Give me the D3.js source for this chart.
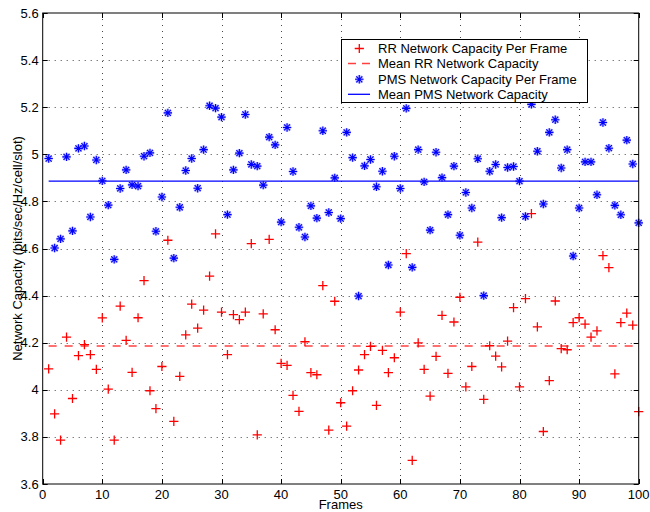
<!DOCTYPE html>
<html>
<head>
<meta charset="utf-8">
<script src="https://cdn.jsdelivr.net/npm/d3@7"></script>
<style>
  html, body { margin: 0; padding: 0; background: #fff; }
  svg { display: block; font-family: "Liberation Sans", Arial, Helvetica, sans-serif; }
</style>
</head>
<body>
<svg id="chart" width="650" height="512"></svg>
<script>
// Per-frame network capacity (bits/sec/Hz/cell/slot), frames 1..100
const frames = d3.range(1, 101);

const rrCapacity = [
  4.089, 3.898, 3.786, 4.224, 3.963, 4.145, 4.192, 4.149, 4.087, 4.305,
  4.003, 3.786, 4.355, 4.210, 4.074, 4.306, 4.464, 3.996, 3.920, 4.099,
  4.635, 3.866, 4.057, 4.233, 4.364, 4.262, 4.338, 4.483, 4.662, 4.330,
  4.149, 4.319, 4.298, 4.330, 4.621, 3.809, 4.322, 4.639, 4.255, 4.112,
  4.104, 3.976, 3.908, 4.204, 4.073, 4.064, 4.442, 3.829, 4.376, 3.945,
  3.846, 3.996, 4.084, 4.149, 4.184, 3.934, 4.167, 4.073, 4.136, 4.330,
  4.578, 3.700, 4.199, 4.087, 3.973, 4.142, 4.316, 4.070, 4.288, 4.393,
  4.012, 4.099, 4.627, 3.959, 4.187, 4.143, 4.097, 4.207, 4.349, 4.012,
  4.387, 4.748, 4.267, 3.823, 4.039, 4.377, 4.175, 4.170, 4.285, 4.306,
  4.279, 4.224, 4.250, 4.570, 4.519, 4.068, 4.285, 4.326, 4.275, 3.907
];

const pmsCapacity = [
  4.982, 4.602, 4.641, 4.989, 4.675, 5.025, 5.035, 4.734, 4.976, 4.887,
  4.784, 4.554, 4.855, 4.934, 4.870, 4.865, 4.992, 5.006, 4.673, 4.819,
  5.176, 4.559, 4.775, 4.931, 4.982, 4.856, 5.020, 5.206, 5.196, 5.158,
  4.744, 4.934, 5.005, 5.169, 4.957, 4.950, 4.869, 5.073, 5.040, 4.712,
  5.114, 4.927, 4.690, 4.649, 4.781, 4.729, 5.100, 4.753, 4.900, 4.727,
  5.093, 4.986, 4.398, 4.951, 4.978, 4.862, 4.928, 4.530, 4.992, 4.855,
  5.195, 4.520, 5.020, 4.883, 4.678, 5.009, 4.901, 4.744, 4.950, 4.656,
  4.838, 4.772, 4.981, 4.400, 4.928, 4.957, 4.731, 4.944, 4.948, 4.886,
  4.736, 5.212, 5.013, 4.789, 5.093, 5.147, 4.942, 5.020, 4.568, 4.772,
  4.968, 4.968, 4.828, 5.135, 5.026, 4.783, 4.743, 5.060, 4.959, 4.709
];

// Mean capacity levels
const rrMean = 4.186;
const pmsMean = 4.886;

const xTicks = [0, 10, 20, 30, 40, 50, 60, 70, 80, 90, 100];
const yTicks = [3.6, 3.8, 4.0, 4.2, 4.4, 4.6, 4.8, 5.0, 5.2, 5.4, 5.6];

const legendLabels = [
  "RR Network Capacity Per Frame",
  "Mean RR Network Capacity",
  "PMS Network Capacity Per Frame",
  "Mean PMS Network Capacity"
];

const RED = "#ff0000";
const BLUE = "#0000ff";

const svg = d3.select("#chart");
const plotLeft = 42.7, plotRight = 638.7, plotTop = 13, plotBottom = 484;

const x = d3.scaleLinear().domain([0, 100]).range([plotLeft, plotRight]);
const y = d3.scaleLinear().domain([3.6, 5.6]).range([plotBottom, plotTop]);

// Dotted grid
const grid = svg.append("g").attr("stroke", "#444").attr("stroke-width", 1)
  .attr("stroke-dasharray", "1,5");
grid.selectAll("line.gx").data(xTicks.slice(1, -1)).join("line")
  .attr("class", "gx")
  .attr("x1", d => Math.round(x(d)) + 0.5).attr("x2", d => Math.round(x(d)) + 0.5)
  .attr("y1", plotTop).attr("y2", plotBottom);
grid.selectAll("line.gy").data(yTicks.slice(1, -1)).join("line")
  .attr("class", "gy")
  .attr("y1", d => Math.round(y(d)) + 0.5).attr("y2", d => Math.round(y(d)) + 0.5)
  .attr("x1", plotLeft).attr("x2", plotRight);

// Mean lines
svg.append("line")
  .attr("x1", x(frames[0])).attr("x2", x(frames[frames.length - 1]))
  .attr("y1", y(rrMean)).attr("y2", y(rrMean))
  .attr("stroke", RED).attr("stroke-width", 1.3).attr("stroke-opacity", 0.75)
  .attr("stroke-dasharray", "8,8");
svg.append("line")
  .attr("x1", x(frames[0])).attr("x2", x(frames[frames.length - 1]))
  .attr("y1", y(pmsMean)).attr("y2", y(pmsMean))
  .attr("stroke", BLUE).attr("stroke-width", 1.3);

// Marker paths
const plusPath = s => `M${-s},0H${s}M0,${-s}V${s}`;
const starPath = s => {
  const d = s * 0.72;
  return `M${-s},0H${s}M0,${-s}V${s}M${-d},${-d}L${d},${d}M${-d},${d}L${d},${-d}`;
};

// RR per-frame markers
svg.append("g").selectAll("path").data(frames).join("path")
  .attr("transform", (f, i) => `translate(${x(f)},${y(rrCapacity[i])})`)
  .attr("d", plusPath(4.6))
  .attr("fill", "none").attr("stroke", RED).attr("stroke-width", 1.3);

// PMS per-frame markers (soft halo under the asterisk)
const pms = svg.append("g");
pms.selectAll("path.halo").data(frames).join("path")
  .attr("class", "halo")
  .attr("transform", (f, i) => `translate(${x(f)},${y(pmsCapacity[i])})`)
  .attr("d", starPath(4.2))
  .attr("fill", "none").attr("stroke", "#6a6aff").attr("stroke-width", 2.6)
  .attr("stroke-opacity", 0.45);
pms.selectAll("path.star").data(frames).join("path")
  .attr("class", "star")
  .attr("transform", (f, i) => `translate(${x(f)},${y(pmsCapacity[i])})`)
  .attr("d", starPath(4.2))
  .attr("fill", "none").attr("stroke", BLUE).attr("stroke-width", 1.1);

// Axes box with inward ticks on all sides
const tickLen = 5;
const axisG = svg.append("g").attr("stroke", "#000").attr("stroke-width", 1);
axisG.append("rect").attr("x", plotLeft).attr("y", plotTop)
  .attr("width", plotRight - plotLeft).attr("height", plotBottom - plotTop).attr("fill", "none");
xTicks.forEach(t => {
  const px = Math.round(x(t)) + 0.5;
  axisG.append("line").attr("x1", px).attr("x2", px).attr("y1", plotBottom).attr("y2", plotBottom - tickLen);
  axisG.append("line").attr("x1", px).attr("x2", px).attr("y1", plotTop).attr("y2", plotTop + tickLen);
});
yTicks.forEach(t => {
  const py = Math.round(y(t)) + 0.5;
  axisG.append("line").attr("y1", py).attr("y2", py).attr("x1", plotLeft).attr("x2", plotLeft + tickLen);
  axisG.append("line").attr("y1", py).attr("y2", py).attr("x1", plotRight).attr("x2", plotRight - tickLen);
});

// Tick labels
svg.append("g").selectAll("text").data(xTicks).join("text")
  .attr("x", d => x(d)).attr("y", plotBottom + 15)
  .attr("text-anchor", "middle").attr("font-size", 13).text(d => d);
svg.append("g").selectAll("text").data(yTicks).join("text")
  .attr("x", plotLeft - 4).attr("y", d => y(d) + 4.5)
  .attr("text-anchor", "end").attr("font-size", 13).text(d => d3.format(".1~f")(d));

// Axis titles
svg.append("text").attr("x", (plotLeft + plotRight) / 2).attr("y", 509)
  .attr("text-anchor", "middle").attr("font-size", 13).text("Frames");
svg.append("text")
  .attr("transform", `translate(22,${(plotTop + plotBottom) / 2}) rotate(-90)`)
  .attr("text-anchor", "middle").attr("font-size", 13)
  .text("Network Capacity (bits/sec/Hz/cell/slot)");

// Legend
const lg = svg.append("g");
lg.append("rect").attr("x", 341.5).attr("y", 39.5).attr("width", 246).attr("height", 63)
  .attr("fill", "#fff").attr("stroke", "#000").attr("stroke-width", 1);
const rowY = [48.5, 63.5, 79.3, 94.3];
const sx1 = 348, sx2 = 370, sxm = 359.3, tx = 378;
lg.append("path").attr("transform", `translate(${sxm},${rowY[0]})`).attr("d", plusPath(4.6))
  .attr("stroke", RED).attr("stroke-width", 1.3);
lg.append("line").attr("x1", sx1).attr("x2", sx2).attr("y1", rowY[1]).attr("y2", rowY[1])
  .attr("stroke", RED).attr("stroke-width", 1.3).attr("stroke-opacity", 0.75)
  .attr("stroke-dasharray", "8,6");
lg.append("path").attr("transform", `translate(${sxm},${rowY[2]})`).attr("d", starPath(4.2))
  .attr("stroke", "#6a6aff").attr("stroke-width", 2.6).attr("stroke-opacity", 0.45);
lg.append("path").attr("transform", `translate(${sxm},${rowY[2]})`).attr("d", starPath(4.2))
  .attr("stroke", BLUE).attr("stroke-width", 1.1);
lg.append("line").attr("x1", sx1).attr("x2", sx2).attr("y1", rowY[3]).attr("y2", rowY[3])
  .attr("stroke", BLUE).attr("stroke-width", 1.3);
lg.selectAll("text").data(legendLabels).join("text")
  .attr("x", tx).attr("y", (d, i) => rowY[i] + 4.5)
  .attr("font-size", 13).text(d => d);
</script>
</body>
</html>
